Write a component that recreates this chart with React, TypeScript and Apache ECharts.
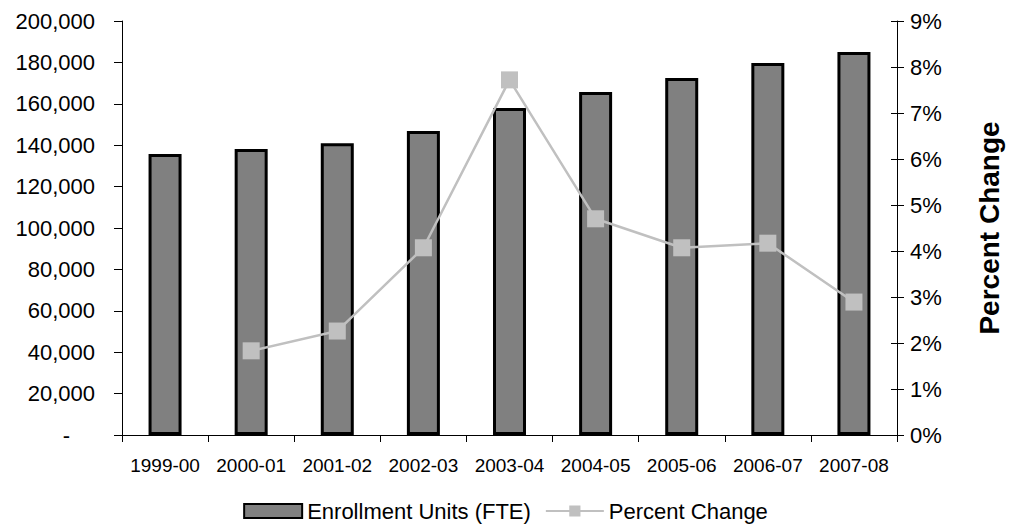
import React, { useEffect, useRef } from "react";
import * as echarts from "echarts";

const categories = ["1999-00", "2000-01", "2001-02", "2002-03", "2003-04", "2004-05", "2005-06", "2006-07", "2007-08"];
const enrollment = [135700, 138200, 141000, 146900, 158000, 165700, 172500, 179700, 185000];
const percentChange = [null, 1.83, 2.26, 4.07, 7.72, 4.7, 4.07, 4.17, 2.89];
const leftTicks = { min: 0, max: 200000, interval: 20000 };
const rightTicks = { min: 0, max: 9, interval: 1 };

const FONT = "'Liberation Sans', Arial, sans-serif";

export default function App() {
  const ref = useRef<HTMLDivElement>(null);
  useEffect(() => {
    if (!ref.current) return;
    const chart = echarts.init(ref.current, undefined, { renderer: "svg" });
    chart.setOption({
      animation: false,
      backgroundColor: "#ffffff",
      textStyle: { fontFamily: FONT, color: "#000" },
      grid: { left: 122, right: 95, top: 21, bottom: 92 },
      legend: {
        bottom: 0,
        left: "center",
        itemWidth: 58,
        itemHeight: 14,
        itemGap: 14,
        textStyle: { fontFamily: FONT, fontSize: 22, color: "#000" },
        data: [
          { name: "Enrollment Units (FTE)", icon: "rect" },
          { name: "Percent Change" },
        ],
      },
      xAxis: {
        type: "category",
        data: categories,
        axisLine: { lineStyle: { color: "#000", width: 1 } },
        axisTick: { show: true, length: 7, lineStyle: { color: "#000" } },
        axisLabel: { fontFamily: FONT, fontSize: 19, color: "#000", margin: 21, interval: 0 },
      },
      yAxis: [
        {
          type: "value",
          position: "left",
          min: leftTicks.min,
          max: leftTicks.max,
          interval: leftTicks.interval,
          splitLine: { show: false },
          axisLine: { show: true, lineStyle: { color: "#000" } },
          axisTick: { show: true, length: 8, lineStyle: { color: "#000" } },
          axisLabel: {
            fontFamily: FONT,
            fontSize: 22,
            color: "#000",
            margin: 27,
            formatter: (v: number) => (v === 0 ? "{d|-}" : v.toLocaleString("en-US")),
            rich: { d: { fontFamily: FONT, fontSize: 22, color: "#000", padding: [0, 25, 0, 0] } },
          },
        },
        {
          type: "value",
          position: "right",
          min: rightTicks.min,
          max: rightTicks.max,
          interval: rightTicks.interval,
          splitLine: { show: false },
          axisLine: { show: true, lineStyle: { color: "#000" } },
          axisTick: { show: true, length: 7, lineStyle: { color: "#000" } },
          axisLabel: { fontFamily: FONT, fontSize: 22, color: "#000", margin: 13, formatter: "{value}%" },
          name: "Percent Change",
          nameLocation: "middle",
          nameGap: 78,
          nameRotate: 90,
          nameTextStyle: { fontFamily: FONT, fontSize: 28, fontWeight: "bold", color: "#000" },
        },
        {
          type: "value",
          position: "right",
          min: rightTicks.min,
          max: rightTicks.max,
          interval: rightTicks.interval,
          splitLine: { show: false },
          axisLine: { show: false },
          axisTick: { show: true, inside: true, length: 6, lineStyle: { color: "#000" } },
          axisLabel: { show: false },
        },
      ],
      series: [
        {
          name: "Enrollment Units (FTE)",
          type: "bar",
          data: enrollment,
          yAxisIndex: 0,
          barWidth: 33,
          itemStyle: { color: "#808080", borderColor: "#000", borderWidth: 3 },
        },
        {
          name: "Percent Change",
          type: "line",
          data: percentChange,
          yAxisIndex: 1,
          symbol: "rect",
          symbolSize: 17,
          lineStyle: { color: "#C0C0C0", width: 2.5 },
          itemStyle: { color: "#C0C0C0" },
        },
      ],
    });
    return () => chart.dispose();
  }, []);
  return <div ref={ref} style={{ position: "fixed", left: 0, top: 0, width: 1011, height: 527 }} />;
}
